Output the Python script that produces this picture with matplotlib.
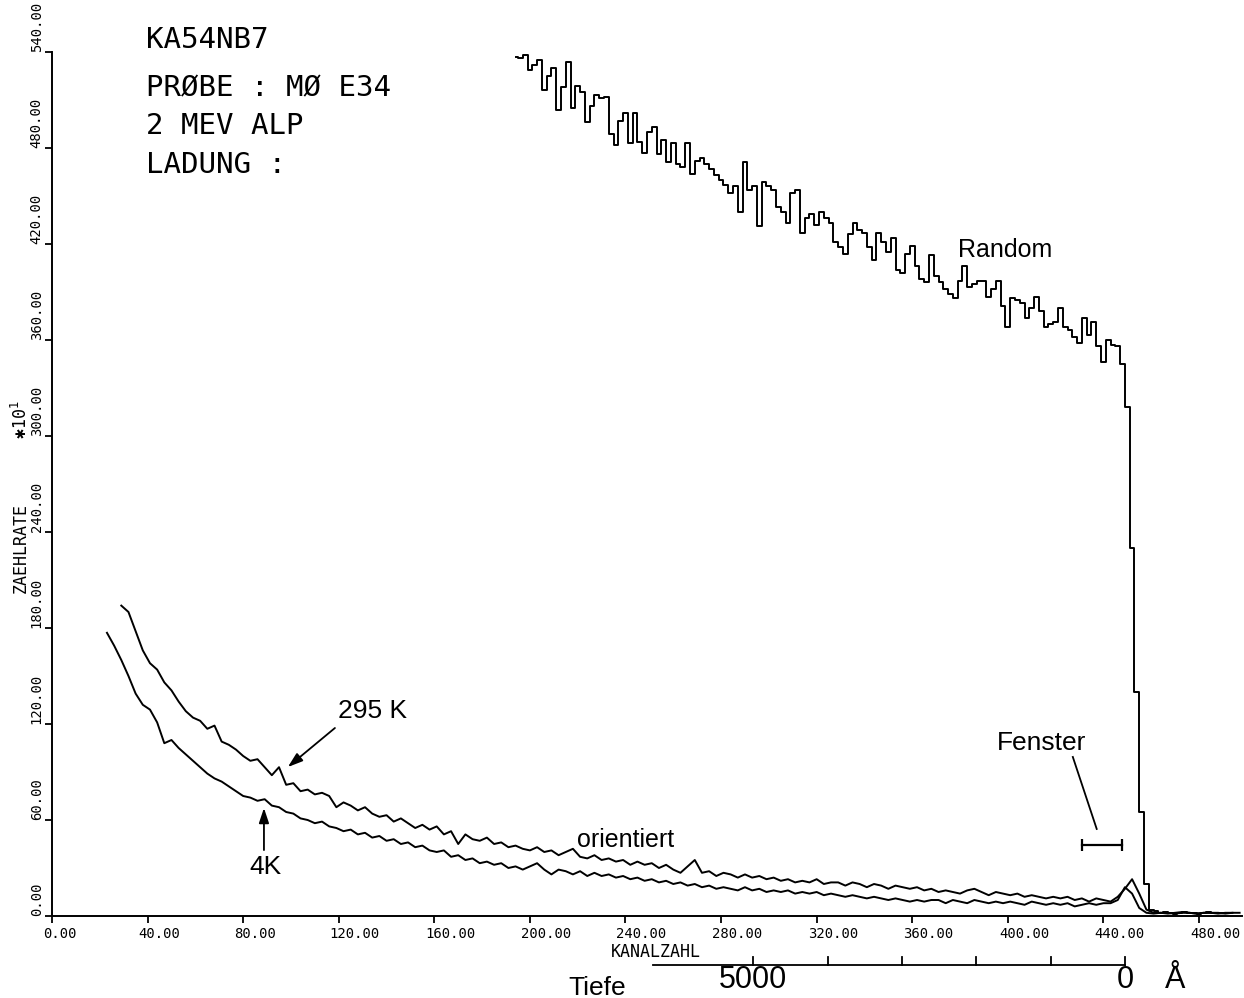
"""
RBS channelling spectra of sample MO E34 (2 MeV alpha), random vs. aligned.
"""

import numpy as np
from matplotlib import pyplot as plt
from matplotlib.transforms import ScaledTranslation

MONO = "DejaVu Sans Mono"
SANS = "Liberation Sans"

# random spectrum, channel 194 onwards in steps of 2
random_start, random_step = 194, 2
random_counts = [
    537, 536, 538, 529, 532, 535, 516, 525, 530, 504,
    518, 534, 505, 519, 515, 496, 506, 513, 511, 512,
    489, 482, 497, 502, 483, 502, 484, 477, 490, 493,
    476, 485, 471, 483, 470, 468, 483, 464, 472, 474,
    470, 467, 463, 460, 457, 452, 456, 440, 471, 454,
    456, 431, 459, 456, 454, 443, 440, 433, 452, 454,
    427, 436, 439, 432, 440, 436, 433, 421, 418, 414,
    426, 433, 429, 427, 418, 410, 427, 421, 415, 424,
    404, 402, 414, 419, 406, 398, 396, 413, 400, 396,
    392, 389, 386, 397, 406, 393, 395, 397, 397, 387,
    392, 397, 381, 368, 386, 385, 383, 374, 380, 387,
    378, 368, 370, 371, 380, 368, 366, 362, 358, 374,
    363, 371, 356, 346, 360, 357, 356, 345, 318, 230,
    140, 65, 20, 4, 3, 2, 2.5, 2, 1.5, 2,
    2.5, 2, 2, 1.5, 2, 2.5, 2, 2, 2,
]

# aligned spectrum at 295 K, channel 29 onwards in steps of 3
k295_start, k295_step = 29, 3
k295_counts = [
    194, 190, 178, 166, 158, 154, 146, 141, 134, 128,
    124, 122, 117, 119, 109, 107, 104, 100, 97, 98,
    93, 88, 93, 82, 83, 78, 79, 76, 77, 75,
    68, 71, 69, 66, 68, 64, 62, 63, 59, 61,
    58, 55, 57, 54, 56, 51, 53, 45, 51, 48,
    47, 49, 45, 46, 43, 44, 42, 41, 43, 40,
    41, 38, 40, 42, 37, 36, 38, 35, 36, 34,
    35, 32, 34, 32, 33, 30, 32, 29, 27, 31,
    35, 27, 28, 25, 27, 26, 24, 26, 24, 25,
    23, 24, 22, 23, 21, 22, 21, 23, 20, 21,
    21, 19, 21, 20, 18, 20, 19, 17, 19, 18,
    17, 18, 16, 17, 15, 16, 15, 14, 16, 17,
    15, 13, 15, 14, 13, 14, 12, 13, 12, 11,
    12, 11, 12, 10, 11, 9, 11, 10, 9, 12,
    17, 23, 14, 4, 2, 2, 1.5, 2, 2.5, 2,
    1.5, 2, 2, 2, 1.5, 2, 2,
]

# aligned spectrum at 4 K, channel 23 onwards in steps of 3
k4_start, k4_step = 23, 3
k4_counts = [
    177, 169, 160, 150, 139, 132, 129, 121, 108, 110,
    105, 101, 97, 93, 89, 86, 84, 81, 78, 75,
    74, 72, 73, 69, 68, 65, 64, 61, 60, 58,
    59, 56, 55, 53, 54, 51, 52, 49, 50, 47,
    48, 45, 46, 43, 44, 41, 40, 41, 37, 38,
    35, 36, 33, 34, 32, 33, 30, 31, 29, 31,
    33, 29, 26, 29, 28, 26, 28, 25, 27, 25,
    26, 24, 25, 23, 24, 22, 23, 21, 22, 20,
    21, 19, 20, 18, 19, 17, 18, 17, 16, 18,
    16, 17, 15, 16, 15, 16, 14, 15, 14, 15,
    13, 14, 13, 12, 13, 12, 11, 12, 11, 10,
    11, 10, 9, 10, 9, 10, 10, 8, 10, 9,
    8, 10, 9, 8, 9, 8, 9, 8, 7, 9,
    8, 7, 8, 7, 8, 6, 7, 8, 7, 8,
    8, 10, 18, 14, 5, 2, 1.5, 2, 2, 1.5,
    2, 2, 1.5, 2, 2, 1.5, 2, 2,
]

x_ticks = np.arange(0, 481, 40)
y_ticks = np.arange(0, 541, 60)

header_lines = ["KA54NB7", "PRØBE : MØ E34", "2 MEV ALP", "LADUNG :"]

# depth scale: surface channel and channels per 1000 Angstrom
surface_channel = 449.0
channels_per_1000A = 31.1
depth_ticks = [5000, 4000, 3000, 2000, 1000, 0]
depth_labelled = [5000, 0]

window_channels = (431, 447.7)
window_level = 44.4


def channels(start, step, values):
    return start + step * np.arange(len(values))


fig = plt.figure(figsize=(12.44, 9.98), dpi=100)
ax = fig.add_axes([52 / 1244, 82 / 998, 1190 / 1244, 864 / 998])

ax.plot(channels(random_start, random_step, random_counts), random_counts,
        drawstyle="steps-mid", color="black", lw=1.4)
for start, step, vals in [(k295_start, k295_step, k295_counts),
                          (k4_start, k4_step, k4_counts)]:
    ax.plot(channels(start, step, vals), vals, color="black", lw=1.4)

ax.set_xlim(0, 498)
ax.set_ylim(0, 540)
for side in ("top", "right"):
    ax.spines[side].set_visible(False)
for side in ("left", "bottom"):
    ax.spines[side].set_linewidth(1.4)

ax.tick_params(direction="out", length=5, width=1.3, pad=3)
ax.tick_params(axis="y", pad=1)
ax.set_xticks(x_ticks)
ax.set_xticklabels([f"{v:.2f}" for v in x_ticks], family=MONO, fontsize=10)
shift = ScaledTranslation(-0.09, 0, fig.dpi_scale_trans)
for lab in ax.get_xticklabels():
    lab.set_ha("left")
    lab.set_transform(lab.get_transform() + shift)

ax.set_yticks(y_ticks)
ax.set_yticklabels([f"{v:.2f}" for v in y_ticks], family=MONO, fontsize=10,
                   rotation=90, va="bottom", ha="right")

# axis titles in plotter lettering
ax.text(233.9, -25.6, "KANALZAHL", family=MONO, fontsize=12,
        ha="left", va="baseline", clip_on=False)
fig.text(21 / 1244, 1 - 548 / 998, "ZAEHLRATE", family=MONO, fontsize=12,
         rotation=90, ha="center", va="center")
fig.text(21 / 1244, 1 - 420 / 998, "✱10$^{1}$", family=[MONO, "DejaVu Sans"],
         fontsize=12, rotation=90, ha="center", va="center")

header_baselines = [48, 96, 134, 173]
for line, ypx in zip(header_lines, header_baselines):
    fig.text(146 / 1244, 1 - ypx / 998, line, family=MONO, fontsize=21,
             ha="left", va="baseline")

# curve annotations
ax.text(379.1, 411.9, "Random", family=SANS, fontsize=18, ha="left", va="baseline")
ax.text(219.7, 43.1, "orientiert", family=SANS, fontsize=18, ha="left", va="baseline")
ax.text(119.7, 123.8, "295 K", family=SANS, fontsize=19, ha="left", va="baseline")
ax.text(82.8, 26.2, "4K", family=SANS, fontsize=19, ha="left", va="baseline")
ax.text(395.4, 103.8, "Fenster", family=SANS, fontsize=19, ha="left", va="baseline")

arrow = dict(arrowstyle="-|>,head_length=0.9,head_width=0.3", color="black",
             lw=1.3, shrinkA=0, shrinkB=0)
ax.annotate("", xy=(98.7, 93.1), xytext=(118.4, 117.5), arrowprops=arrow)
ax.annotate("", xy=(88.7, 67.5), xytext=(88.7, 41.2), arrowprops=arrow)

# analysis window bar and its pointer
ax.plot(window_channels, [window_level] * 2, color="black", lw=1.6,
        marker="|", markersize=9, mew=1.6)
ax.plot([427.2, 437.2], [99.4, 54.4], color="black", lw=1.3)

# depth scale below the channel axis
depth_y = -30.5
tick_h = 5.0
depth_ch = [surface_channel - d / 1000 * channels_per_1000A for d in depth_ticks]
ax.plot([251.5, max(depth_ch)], [depth_y, depth_y], color="black", lw=1.3,
        clip_on=False)
for c in depth_ch:
    ax.plot([c, c], [depth_y, depth_y + tick_h], color="black", lw=1.3,
            clip_on=False)
for d in depth_labelled:
    c = surface_channel - d / 1000 * channels_per_1000A
    ax.text(c, -45, f"{d}", family=SANS, fontsize=22, ha="center",
            va="baseline", clip_on=False)
ax.text(469.9, -45, "Å", family=SANS, fontsize=22, ha="center",
        va="baseline", clip_on=False)
ax.text(215.9, -49.4, "Tiefe", family=SANS, fontsize=19, ha="left",
        va="baseline", clip_on=False)

fig.savefig("out.png", dpi=100, facecolor="white")
